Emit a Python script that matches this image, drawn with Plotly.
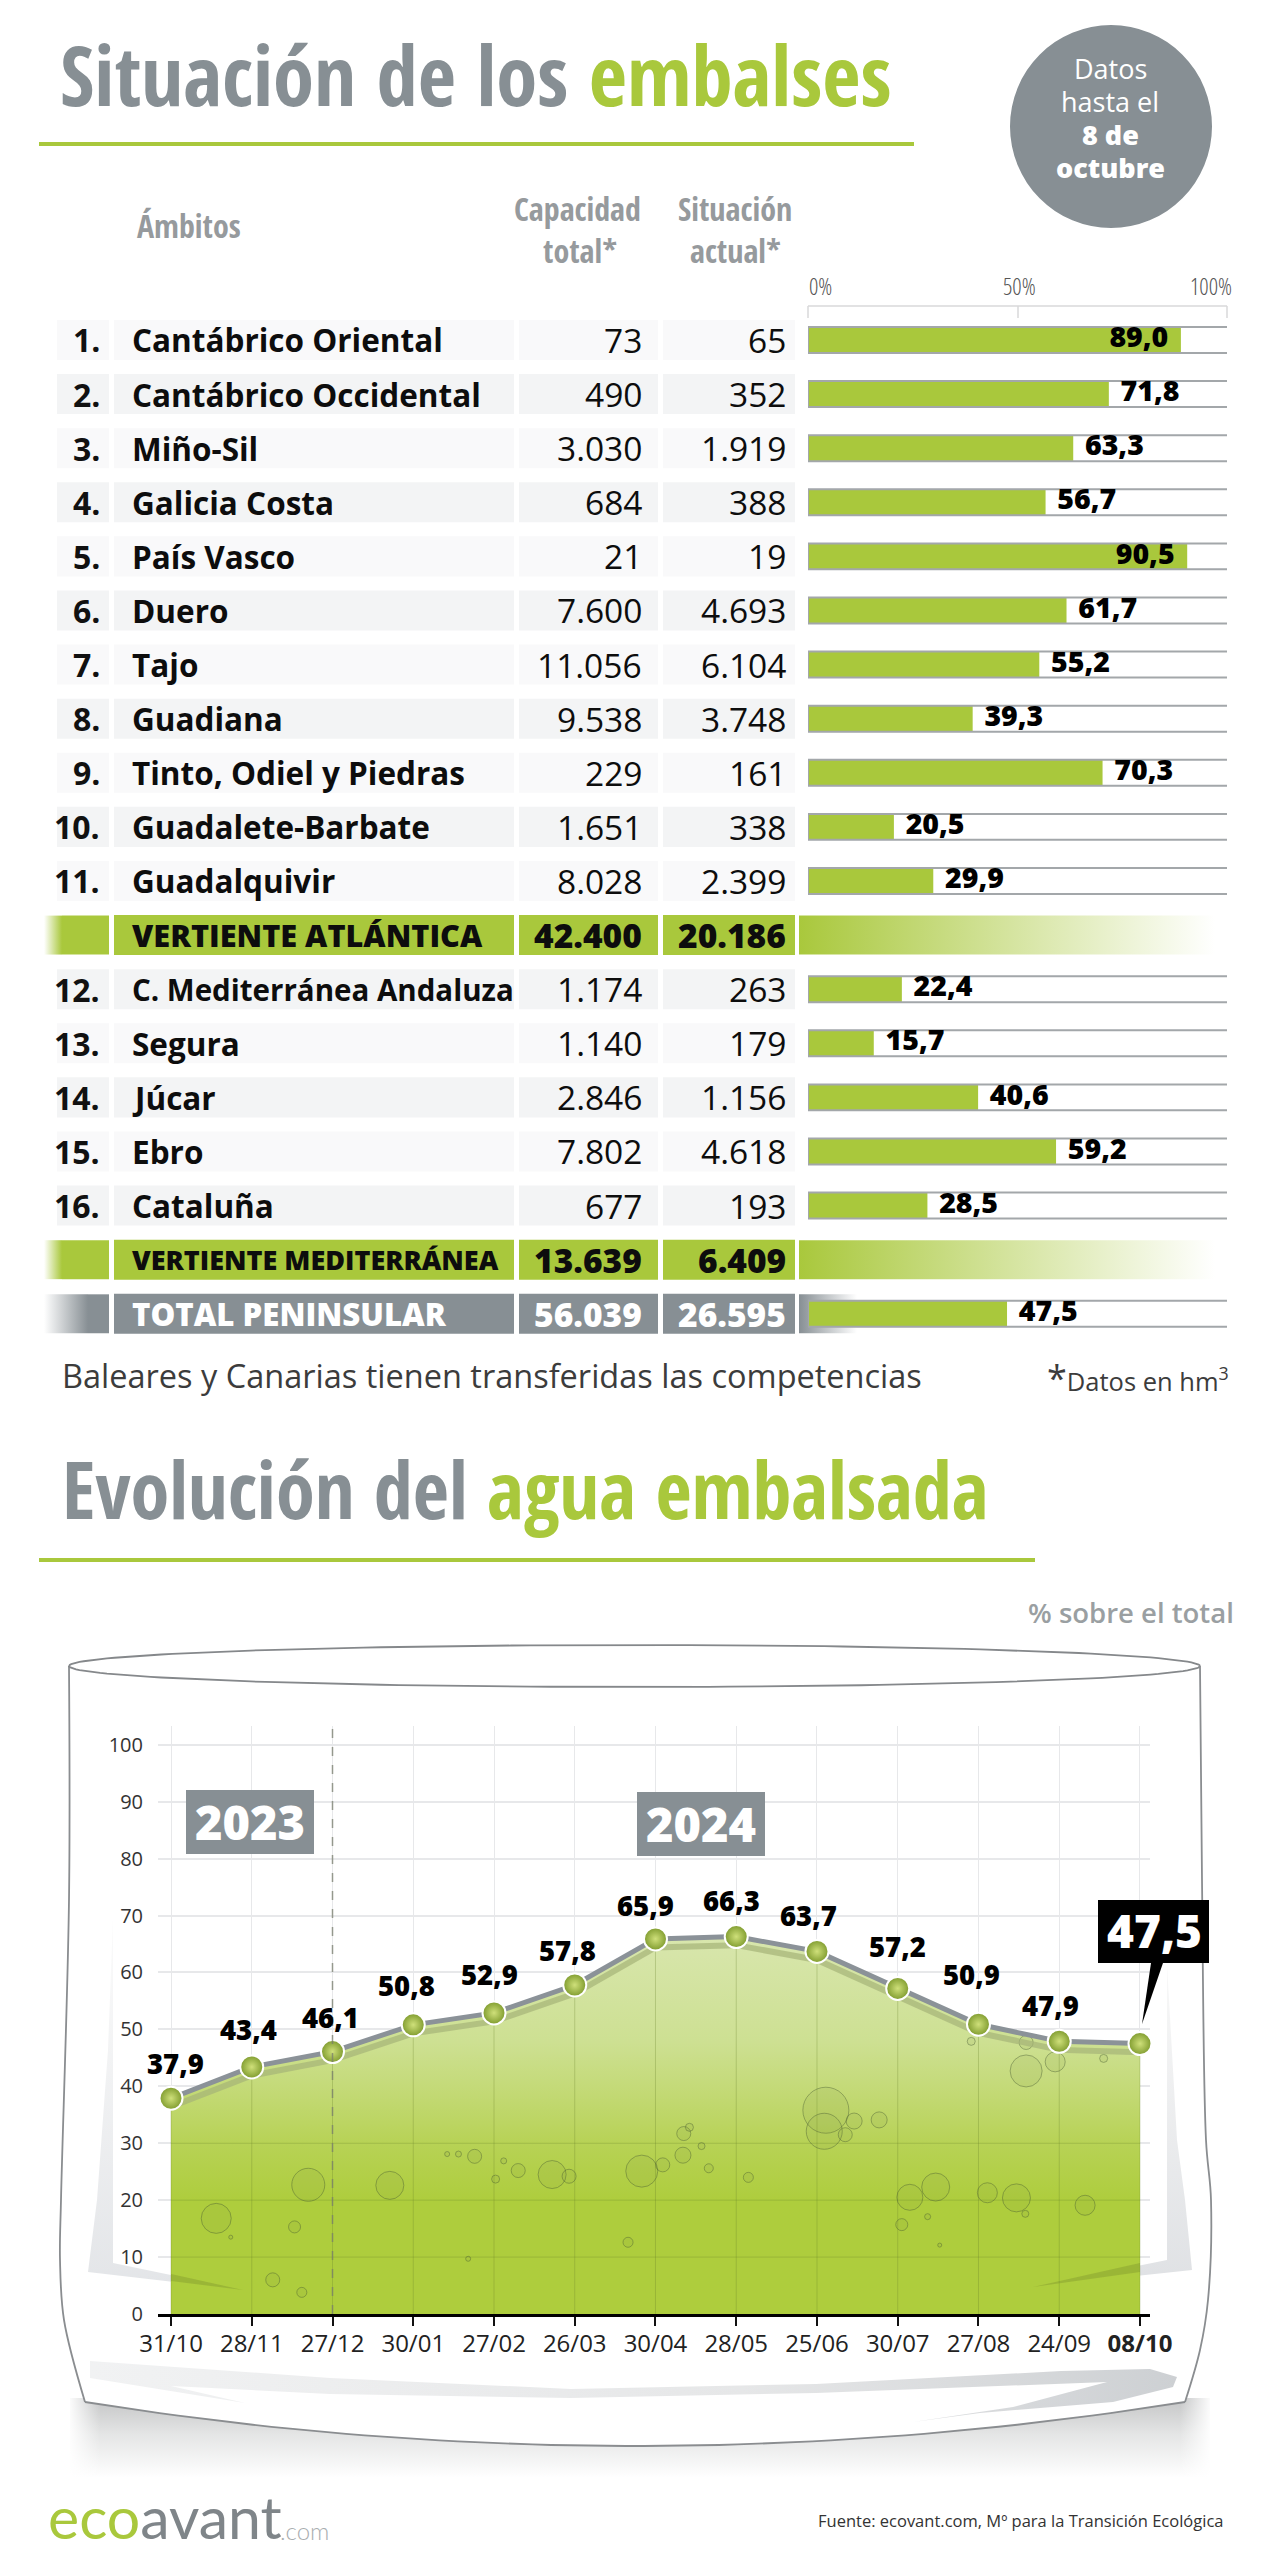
import numpy as np
import plotly.graph_objects as go

# the page puts the figure 8px in from the window corner, so the figure is sized to fit inside
W, H = 1264, 2544
OFF = 8
GREEN = "#a9c83c"
GRAY = "#878f94"
NARROW = "Open Sans Condensed"
SANS = "Open Sans"

# table data
ranks = ["1.", "2.", "3.", "4.", "5.", "6.", "7.", "8.", "9.", "10.", "11.", "", "12.", "13.", "14.", "15.", "16.", "", ""]
ambitos = ["Cantábrico Oriental", "Cantábrico Occidental", "Miño-Sil", "Galicia Costa", "País Vasco", "Duero", "Tajo",
           "Guadiana", "Tinto, Odiel y Piedras", "Guadalete-Barbate", "Guadalquivir", "VERTIENTE ATLÁNTICA",
           "C. Mediterránea Andaluza", "Segura", "Júcar", "Ebro", "Cataluña", "VERTIENTE MEDITERRÁNEA", "TOTAL PENINSULAR"]
capacidad = ["73", "490", "3.030", "684", "21", "7.600", "11.056", "9.538", "229", "1.651", "8.028", "42.400",
             "1.174", "1.140", "2.846", "7.802", "677", "13.639", "56.039"]
situacion = ["65", "352", "1.919", "388", "19", "4.693", "6.104", "3.748", "161", "338", "2.399", "20.186",
             "263", "179", "1.156", "4.618", "193", "6.409", "26.595"]
porcentaje = [89.0, 71.8, 63.3, 56.7, 90.5, 61.7, 55.2, 39.3, 70.3, 20.5, 29.9, None,
              22.4, 15.7, 40.6, 59.2, 28.5, None, 47.5]

# line chart data
fechas = ["31/10", "28/11", "27/12", "30/01", "27/02", "26/03", "30/04", "28/05", "25/06", "30/07", "27/08", "24/09", "08/10"]
agua = [37.9, 43.4, 46.1, 50.8, 52.9, 57.8, 65.9, 66.3, 63.7, 57.2, 50.9, 47.9, 47.5]
agua_x = list(range(len(fechas)))

# bubbles inside the water
burbuja_x = [.56, 1.70, 1.53, 2.71, .74, 3.76, 3.56, 3.42, 4.12, 4.30, 4.02, 4.72, 4.93, 5.83, 6.09, 6.35, 6.42, 6.34, 6.57, 6.66,
             7.15, 8.11, 8.09, 8.46, 8.35, 8.77, 9.15, 9.47, 9.05, 9.37, 9.52, 10.11, 10.47, 10.58, 11.32, 10.59, 10.95, 10.59,
             9.91, 11.55, 1.26, 1.62, 5.66, 3.68]
burbuja_y = [16.8, 22.7, 15.3, 22.6, 13.5, 27.7, 28.1, 28.1, 26.9, 25.2, 23.7, 24.5, 24.2, 25.1, 26.2, 31.7, 32.8, 27.9, 29.5, 25.6,
             24.0, 35.8, 32.1, 33.9, 31.5, 34.1, 20.5, 22.3, 15.7, 17.1, 12.1, 21.3, 20.4, 17.6, 19.1, 42.7, 44.3, 47.7,
             47.9, 44.9, 6.0, 3.8, 12.6, 9.7]
burbuja_d = [30, 33, 12, 28, 4, 14, 6, 5, 6, 14, 8, 28, 14, 32, 14, 14, 8, 16, 7, 9,
             10, 46, 36, 16, 14, 16, 26, 28, 12, 6, 4, 20, 28, 7, 20, 32, 20, 14,
             8, 8, 14, 10, 10, 5]

fig = go.Figure()


def dom_x(a, b):
    return [(a - OFF) / W, (b - OFF) / W]


def dom_y(top, bottom):
    return [1 - (bottom - OFF) / H, 1 - (top - OFF) / H]


# layout helpers, everything decorative is laid out in page pixels on the x/y axes
def txt(x, y, text, size, color="#111111", anchor="left", weight=400, family=SANS, yref="y"):
    fig.add_annotation(x=x, y=y, xref="x", yref=yref, text=text, showarrow=False, xanchor=anchor, yanchor="middle",
                       font=dict(size=size, color=color, weight=weight, family=family))


def rect(x0, x1, y0, y1, color, yref="y", layer="below"):
    fig.add_shape(type="rect", x0=x0, x1=x1, y0=y0, y1=y1, xref="x", yref=yref, fillcolor=color, line_width=0, layer=layer)


def poly(points, gradient=None, color=None):
    xs = [p[0] for p in points] + [points[0][0]]
    ys = [p[1] for p in points] + [points[0][1]]
    if gradient:
        fig.add_trace(go.Scatter(x=xs, y=ys, mode="none", fill="toself", fillgradient=gradient, xaxis="x", yaxis="y", hoverinfo="skip"))
    else:
        fig.add_trace(go.Scatter(x=xs, y=ys, mode="none", fill="toself", fillcolor=color, xaxis="x", yaxis="y", hoverinfo="skip"))


def row_fade(x0, x1, y, left, right):
    h = 0.36
    fig.add_trace(go.Scatter(x=[x0, x1, x1, x0, x0], y=[y - h, y - h, y + h, y + h, y - h], mode="none", fill="toself",
                             fillgradient=dict(type="horizontal", colorscale=[[0, left], [1, right]]),
                             xaxis="x", yaxis="y2", hoverinfo="skip"))


# --- barrel behind the line chart ---
poly([(70, 2398), (1210, 2398), (1210, 2478), (70, 2478)],
     gradient=dict(type="vertical", colorscale=[[0, "#ffffff"], [0.55, "#e4e5e5"], [1, "#c4c5c6"]]))
poly([(68, 2396), (100, 2396), (100, 2480), (68, 2480)],
     gradient=dict(type="horizontal", colorscale=[[0, "rgba(255,255,255,1)"], [1, "rgba(255,255,255,0)"]]))
poly([(1180, 2396), (1212, 2396), (1212, 2480), (1180, 2480)],
     gradient=dict(type="horizontal", colorscale=[[0, "rgba(255,255,255,0)"], [1, "rgba(255,255,255,1)"]]))
t = np.linspace(0, 1, 60)
bottom_x = (1 - t) ** 2 * 85 + 2 * t * (1 - t) * 635 + t ** 2 * 1185
bottom_y = (1 - t) ** 2 * 2402 + 2 * t * (1 - t) * 2490 + t ** 2 * 2402
left_side = [(69, 1666), (69, 1900), (61, 2200), (60, 2260), (64, 2320), (85, 2402)]
right_side = [(1185, 2402), (1200, 2350), (1208, 2300), (1211, 2200), (1206, 2140), (1202, 1880), (1200, 1666)]
poly(left_side + list(zip(bottom_x, bottom_y)) + right_side, color="#ffffff")
for side in (left_side, right_side):
    fig.add_trace(go.Scatter(x=[p[0] for p in side], y=[p[1] for p in side], mode="lines", xaxis="x", yaxis="y", hoverinfo="skip",
                             line=dict(color="#8a8d90", width=1.8, shape="spline")))
fig.add_trace(go.Scatter(x=bottom_x, y=bottom_y, mode="lines", line=dict(color="#8a8d90", width=1.8), xaxis="x", yaxis="y", hoverinfo="skip"))
a = np.linspace(0, 2 * np.pi, 180)
fig.add_trace(go.Scatter(x=634.5 + 565.5 * np.cos(a), y=1666 + 21 * np.sin(a), mode="lines", xaxis="x", yaxis="y", hoverinfo="skip",
                         line=dict(color="#85888b", width=1.8)))
# glass reflections
poly([(113, 1918), (113, 2263), (243, 2290), (88, 2272), (97, 2200), (108, 2050)],
     gradient=dict(type="vertical", colorscale=[[0, "#e3e5e8"], [1, "#fbfbfb"]]))
poly([(1167, 1965), (1167, 2260), (1033, 2287), (1192, 2270), (1185, 2200), (1177, 2140)],
     gradient=dict(type="vertical", colorscale=[[0, "#dfe1e4"], [1, "#f8f8f8"]]))
poly([(90, 2361), (330, 2378), (571, 2389), (816, 2384), (1061, 2371), (1150, 2369), (1177, 2377), (1173, 2387), (1113, 2402),
      (980, 2413), (913, 2422), (1013, 2407), (1107, 2382), (816, 2393), (571, 2398), (330, 2394), (171, 2386), (245, 2403), (90, 2378)],
     gradient=dict(type="horizontal", colorscale=[[0, "#f1f2f3"], [0.6, "#e6e7e8"], [1, "#cdd0d3"]]))

# --- table rows ---
nrows = len(ambitos)
for i in range(nrows):
    if i in (11, 17):
        row_fade(44, 62, i, "#ffffff", GREEN)
        row_fade(62, 109, i, GREEN, GREEN)
        row_fade(799, 1215, i, GREEN, "#ffffff")
        band = GREEN
    elif i == 18:
        row_fade(44, 88, i, "#ffffff", GRAY)
        row_fade(88, 109, i, GRAY, GRAY)
        row_fade(799, 857, i, GRAY, "#ffffff")
        band = GRAY
    else:
        band = "#f9f9fa" if int(ranks[i][:-1]) % 2 else "#f3f4f5"
        rect(57, 109, i - 0.37, i + 0.37, band, yref="y2")
        txt(102, i, ranks[i], 32, anchor="right", weight=700, yref="y2")
    for x0, x1 in ((114, 514), (519, 658), (663, 795)):
        rect(x0, x1, i - 0.37, i + 0.37, band, yref="y2")
    bold = i in (11, 17, 18)
    color = "#ffffff" if i == 18 else "#0d0d0d"
    name_size = {11: 30.7, 17: 27, 18: 31.2, 12: 29.5}.get(i, 31.5)
    txt(130, i, ambitos[i], name_size, color=color, weight=800 if bold else 700, yref="y2")
    txt(644, i, capacidad[i], 33.5, color=color, anchor="right", weight=800 if bold else 400, yref="y2")
    txt(788, i, situacion[i], 33.5, color=color, anchor="right", weight=800 if bold else 400, yref="y2")

# bars with their rails
bar_y = [i for i, v in enumerate(porcentaje) if v is not None]
bar_v = [porcentaje[i] for i in bar_y]
fig.add_trace(go.Bar(x=bar_v, y=bar_y, orientation="h", width=0.48, marker=dict(color=GREEN, line_width=0), xaxis="x2", yaxis="y2", hoverinfo="skip"))
rail_x, rail_y = [], []
for i in bar_y:
    rail_x += [100, 0, 0, 100, None]
    rail_y += [i - 0.24, i - 0.24, i + 0.24, i + 0.24, None]
fig.add_trace(go.Scatter(x=rail_x, y=rail_y, mode="lines", line=dict(color="#a3a7aa", width=2), xaxis="x2", yaxis="y2", hoverinfo="skip"))
fig.add_trace(go.Scatter(x=[v - 3 if v > 85 else v + 2.8 for v in bar_v], y=bar_y, mode="text", xaxis="x2", yaxis="y2", hoverinfo="skip",
                         text=[f"{v:.1f}".replace(".", ",") for v in bar_v],
                         textposition=["middle left" if v > 85 else "middle right" for v in bar_v],
                         textfont=dict(size=28.5, color="#000000", family=SANS, weight=800), cliponaxis=False))

# scale above the bars
for x0, y0, x1, y1 in ((808, 306, 1227, 306), (808, 306, 808, 318), (1018, 306, 1018, 318), (1227, 306, 1227, 318)):
    fig.add_shape(type="line", x0=x0, y0=y0, x1=x1, y1=y1, xref="x", yref="y", line=dict(color="#d8d9da", width=1.5), layer="below")
thin = "<span style='font-stretch:75%%'>%s</span>"
txt(807, 286, thin % "0%", 23, color="#555555", weight=300)
txt(1019, 286, thin % "50%", 23, color="#555555", anchor="center", weight=300)
txt(1234, 286, thin % "100%", 23, color="#555555", anchor="right", weight=300)

# --- line chart ---
fig.add_trace(go.Scatter(x=agua_x, y=agua, mode="none", fill="tozeroy", xaxis="x3", yaxis="y3", hoverinfo="skip",
                         fillgradient=dict(type="vertical", colorscale=[[0, "#aecd3d"], [0.3, "#aecd3d"], [0.45, "#b7d255"],
                                                                        [0.6, "#c4da78"], [0.72, "#cde092"], [1, "#d8e6ad"]])))
grid_x, grid_y = [], []
for i, v in zip(agua_x, agua):
    grid_x += [i, i, None]
    grid_y += [0, v - 1, None]
for v in (10, 20, 30):
    grid_x += [0, agua_x[-1], None]
    grid_y += [v, v, None]
fig.add_trace(go.Scatter(x=grid_x, y=grid_y, mode="lines", line=dict(color="rgba(100,125,40,0.28)", width=1), xaxis="x3", yaxis="y3", hoverinfo="skip"))
fig.add_shape(type="line", x0=2, x1=2, y0=0, y1=103.3, xref="x3", yref="y3", line=dict(color="rgba(120,125,110,0.75)", width=1.5, dash="dash"), layer="above")
fig.add_trace(go.Scatter(x=burbuja_x, y=burbuja_y, mode="markers", xaxis="x3", yaxis="y3", hoverinfo="skip",
                         marker=dict(size=burbuja_d, color="rgba(125,150,70,0.14)", line=dict(color="rgba(70,90,50,0.6)", width=1))))
fig.add_trace(go.Scatter(x=agua_x, y=[v - 1.5 for v in agua], mode="lines", line=dict(color="rgba(165,180,120,0.7)", width=6),
                         xaxis="x3", yaxis="y3", hoverinfo="skip"))
fig.add_trace(go.Scatter(x=agua_x, y=agua, mode="lines", line=dict(color="#8b9298", width=5), xaxis="x3", yaxis="y3", hoverinfo="skip"))
fig.add_trace(go.Scatter(x=agua_x, y=agua, mode="markers", xaxis="x3", yaxis="y3", hoverinfo="skip", cliponaxis=False,
                         marker=dict(size=23, color="#7f9b2e", gradient=dict(type="radial", color="#cfe07a"), line=dict(color="#ffffff", width=2))))
label_dx = [4, -3, -2, -7, -5, -7, -10, -5, -8, 0, -7, -9]
label_dy = [35, 37, 34, 39, 38, 34, 33, 36, 36, 42, 50, 36]
for i, v, dx, dy in zip(agua_x, agua, label_dx, label_dy):
    fig.add_annotation(x=i, y=v, xref="x3", yref="y3", xshift=dx, yshift=dy, showarrow=False, text=f"{v:.1f}".replace(".", ","),
                       font=dict(size=27.5, color="#000000", weight=800, family=SANS))

# faint reflections over the water
for path in ("M171,2274 L243,2290 L171,2281 Z", "M1140,2263 L1033,2287 L1140,2272 Z"):
    fig.add_shape(type="path", path=path, xref="x", yref="y", fillcolor="rgba(110,130,40,0.3)", line_width=0, layer="above")

# year tags and last-value callout
rect(186, 314, 1790, 1854, GRAY, layer="above")
rect(637, 765, 1792, 1856, GRAY, layer="above")
txt(250, 1822, "2023", 47, color="#ffffff", anchor="center", weight=800)
txt(701, 1824, "2024", 47, color="#ffffff", anchor="center", weight=800)
rect(1098, 1209, 1900, 1963, "#000000", layer="above")
fig.add_shape(type="path", path="M1151,1963 L1163,1963 L1142,2024 Z", xref="x", yref="y", fillcolor="#000000", line_width=0, layer="above")
txt(1154, 1930, "47,5", 46, color="#ffffff", anchor="center", weight=800)

# --- headings and notes ---
grey_span = f"<span style='color:{GRAY}'>%s</span>"
green_span = f"<span style='color:{GREEN}'>%s</span>"
txt(58, 73, grey_span % "Situación de los " + green_span % "embalses", 83, weight=700, family=NARROW)
txt(60, 1488, grey_span % "Evolución del " + green_span % "agua embalsada", 78.5, weight=700, family=NARROW)
rect(39, 914, 142, 146, GREEN)
rect(39, 1035, 1558, 1562, GREEN)
fig.add_shape(type="circle", x0=1010, x1=1212, y0=25, y1=228, xref="x", yref="y", fillcolor=GRAY, line_width=0, layer="below")
txt(1110, 68, "Datos", 27, color="#ffffff", anchor="center")
txt(1110, 101, "hasta el", 27, color="#ffffff", anchor="center")
txt(1110, 134, "8 de", 27, color="#ffffff", anchor="center", weight=800)
txt(1110, 167, "octubre", 27, color="#ffffff", anchor="center", weight=800)
txt(135, 225, "Ámbitos", 32, color="#969a9d", weight=700, family=NARROW)
txt(577, 208, "Capacidad", 32, color="#969a9d", anchor="center", weight=700, family=NARROW)
txt(580, 250, "total*", 32, color="#969a9d", anchor="center", weight=700, family=NARROW)
txt(735, 208, "Situación", 32, color="#969a9d", anchor="center", weight=700, family=NARROW)
txt(735, 250, "actual*", 32, color="#969a9d", anchor="center", weight=700, family=NARROW)
txt(60, 1375, "Baleares y Canarias tienen transferidas las competencias", 32.5, color="#3c3c3c")
txt(1231, 1377, "<span style='font-size:36px'>*</span>Datos en hm<sup>3</sup>", 25.5, color="#3c3c3c", anchor="right")
txt(1236, 1612, "% sobre el total", 27.5, color="#9a9fa2", anchor="right", weight=600)
txt(46, 2516, green_span % "eco" + "<span style='color:#7f8589'>avant</span>", 59, weight=400, family="Lato")
txt(278, 2530, ".com", 24, color="#a9adaf", weight=300, family="Lato")
txt(1226, 2520, "Fuente: ecovant.com, Mº para la Transición Ecológica", 16.5, color="#333333", anchor="right")

grid = "#e7e8ea"
fig.update_layout(
    template="none", width=W, height=H, margin=dict(l=0, r=0, t=0, b=0), showlegend=False, barmode="overlay",
    paper_bgcolor="#ffffff", plot_bgcolor="rgba(0,0,0,0)", font=dict(family=SANS),
    xaxis=dict(domain=[0, 1], range=[OFF, OFF + W], visible=False),
    yaxis=dict(domain=[0, 1], range=[OFF + H, OFF], visible=False),
    xaxis2=dict(domain=dom_x(808, 1227), range=[0, 100], visible=False, anchor="y2"),
    yaxis2=dict(domain=dom_y(306, 1345), range=[18.577, -0.628], visible=False, anchor="x2"),
    xaxis3=dict(domain=dom_x(158, 1150), range=[-0.161, 12.124], anchor="y3", tickmode="array", tickvals=agua_x,
                ticktext=fechas[:-1] + [f"<b>{fechas[-1]}</b>"], tickfont=dict(size=24, color="#222222"),
                ticks="outside", ticklen=9, tickwidth=2, tickcolor="#111111", gridcolor=grid, showgrid=True, zeroline=False,
                showline=True, linecolor="#000000", linewidth=3, ticklabelstandoff=-3),
    yaxis3=dict(domain=dom_y(1726, 2314), range=[0, 103.3], anchor="x3", tickmode="array", tickvals=list(range(0, 101, 10)),
                tickfont=dict(size=20, color="#333333"), gridcolor=grid, gridwidth=1.5, showgrid=True, zeroline=False, ticklabelstandoff=14),
)

fig.write_html("out.html")
